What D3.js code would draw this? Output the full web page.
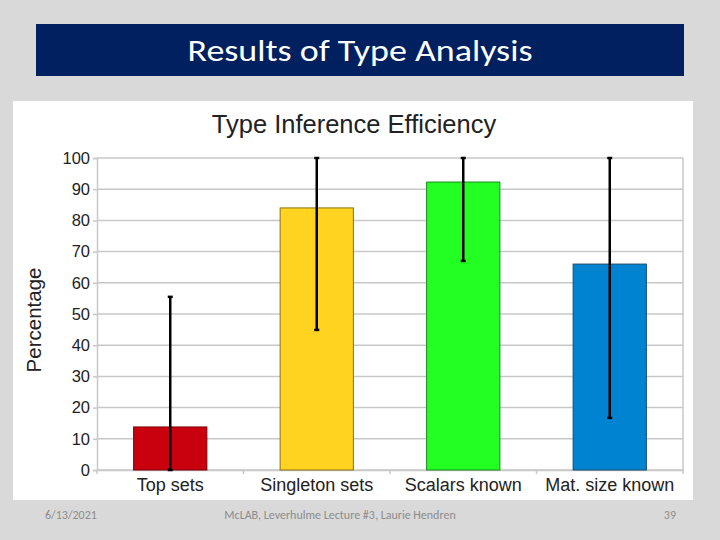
<!DOCTYPE html>
<html>
<head>
<meta charset="utf-8">
<script src="https://cdn.jsdelivr.net/npm/d3@7"></script>
<style>
  body { margin: 0; background: #d9d9d9; }
  svg { display: block; }
</style>
</head>
<body>
<script>
// data
const categories = ["Top sets", "Singleton sets", "Scalars known", "Mat. size known"];
const values = [13.8, 84, 92.3, 66];
const errLow = [0, 44.9, 67, 16.7];
const errHigh = [55.5, 100, 100, 100];
const barColors = ["#c9000e", "#ffd320", "#23ff23", "#0084d1"];
const barStrokes = ["#7a0008", "#8a7010", "#1a8a1a", "#1a4a70"];
const yTicks = [0, 10, 20, 30, 40, 50, 60, 70, 80, 90, 100];

const W = 720, H = 540;
const svg = d3.select("body").append("svg")
    .attr("width", W)
    .attr("height", H);

svg.append("rect").attr("width", W).attr("height", H).attr("fill", "#d9d9d9");

// slide title bar
svg.append("rect")
    .attr("x", 36).attr("y", 24)
    .attr("width", 648).attr("height", 52)
    .attr("fill", "#002060");
svg.append("text")
    .attr("x", 360).attr("y", 61)
    .attr("text-anchor", "middle")
    .attr("fill", "#fff")
    .attr("font-family", "Carlito, Lato, sans-serif")
    .attr("font-size", 30)
    .attr("textLength", 345)
    .attr("lengthAdjust", "spacingAndGlyphs")
    .text("Results of Type Analysis");

// chart panel
svg.append("rect")
    .attr("x", 13).attr("y", 101)
    .attr("width", 680).attr("height", 399)
    .attr("fill", "#fff");

const margin = {left: 97, right: 683, top: 158, bottom: 470};

const x = d3.scaleBand()
    .domain(categories)
    .range([margin.left, margin.right])
    .paddingInner(0.5)
    .paddingOuter(0.25);

const y = d3.scaleLinear()
    .domain([0, 100])
    .range([margin.bottom, margin.top]);

const font = "'Liberation Sans', Arial, sans-serif";

// gridlines
svg.append("g")
    .selectAll("line")
    .data(yTicks)
  .enter().append("line")
    .attr("x1", margin.left).attr("x2", margin.right)
    .attr("y1", d => y(d)).attr("y2", d => y(d))
    .attr("stroke", "#c8c8c8")
    .attr("stroke-width", 1.5);

// right border of plot
svg.append("line")
    .attr("x1", margin.right).attr("x2", margin.right)
    .attr("y1", margin.top).attr("y2", margin.bottom)
    .attr("stroke", "#c8c8c8").attr("stroke-width", 1.5);

// y axis
const yAxis = svg.append("g")
    .attr("transform", `translate(${margin.left},0)`)
    .call(d3.axisLeft(y).tickValues(yTicks).tickSize(4).tickPadding(3));
yAxis.select(".domain").attr("stroke", "#c8c8c8").attr("stroke-width", 1.5);
yAxis.selectAll(".tick line").attr("stroke", "#c8c8c8").attr("stroke-width", 1.5);
yAxis.selectAll("text")
    .attr("font-family", font)
    .attr("font-size", 16.5)
    .attr("fill", "#222");

// x axis
const xAxis = svg.append("g")
    .attr("transform", `translate(0,${margin.bottom})`)
    .call(d3.axisBottom(x).tickSize(0).tickPadding(8));
xAxis.select(".domain").attr("stroke", "#c8c8c8").attr("stroke-width", 1.5);
xAxis.selectAll("text")
    .attr("font-family", font)
    .attr("font-size", 18)
    .attr("fill", "#222");

// category separator ticks
const step = x.step();
svg.append("g")
    .selectAll("line")
    .data(d3.range(categories.length + 1))
  .enter().append("line")
    .attr("x1", i => margin.left + i * step)
    .attr("x2", i => margin.left + i * step)
    .attr("y1", margin.bottom)
    .attr("y2", margin.bottom + 4)
    .attr("stroke", "#c8c8c8")
    .attr("stroke-width", 1.5);

// bars
svg.append("g")
    .selectAll("rect")
    .data(categories)
  .enter().append("rect")
    .attr("x", d => x(d))
    .attr("y", (d, i) => y(values[i]))
    .attr("width", x.bandwidth())
    .attr("height", (d, i) => y(0) - y(values[i]))
    .attr("fill", (d, i) => barColors[i])
    .attr("stroke", (d, i) => barStrokes[i])
    .attr("stroke-width", 1);

// error bars
const eb = svg.append("g")
    .selectAll("g")
    .data(categories)
  .enter().append("g");
eb.append("line")
    .attr("x1", d => x(d) + x.bandwidth() / 2)
    .attr("x2", d => x(d) + x.bandwidth() / 2)
    .attr("y1", (d, i) => y(errLow[i]))
    .attr("y2", (d, i) => y(errHigh[i]))
    .attr("stroke", "#000")
    .attr("stroke-width", 2.5);
eb.append("line")
    .attr("x1", d => x(d) + x.bandwidth() / 2 - 2.5)
    .attr("x2", d => x(d) + x.bandwidth() / 2 + 2.5)
    .attr("y1", (d, i) => y(errHigh[i]))
    .attr("y2", (d, i) => y(errHigh[i]))
    .attr("stroke", "#000")
    .attr("stroke-width", 2.5);
eb.append("line")
    .attr("x1", d => x(d) + x.bandwidth() / 2 - 2.5)
    .attr("x2", d => x(d) + x.bandwidth() / 2 + 2.5)
    .attr("y1", (d, i) => y(errLow[i]))
    .attr("y2", (d, i) => y(errLow[i]))
    .attr("stroke", "#000")
    .attr("stroke-width", 2.5);

// chart title
svg.append("text")
    .attr("x", 354).attr("y", 133)
    .attr("text-anchor", "middle")
    .attr("font-family", font)
    .attr("font-size", 25.5)
    .attr("fill", "#222")
    .text("Type Inference Efficiency");

// y label
svg.append("text")
    .attr("transform", "translate(41,320) rotate(-90)")
    .attr("text-anchor", "middle")
    .attr("font-family", font)
    .attr("font-size", 20.5)
    .attr("fill", "#222")
    .text("Percentage");

// footer
const footFont = "Carlito, Lato, sans-serif";
svg.append("text")
    .attr("x", 45).attr("y", 519)
    .attr("font-family", footFont)
    .attr("font-size", 12)
    .attr("fill", "#8c8c8c")
    .text("6/13/2021");
svg.append("text")
    .attr("x", 340).attr("y", 519)
    .attr("text-anchor", "middle")
    .attr("font-family", footFont)
    .attr("font-size", 12)
    .attr("fill", "#8c8c8c")
    .text("McLAB, Leverhulme Lecture #3, Laurie Hendren");
svg.append("text")
    .attr("x", 676).attr("y", 519)
    .attr("text-anchor", "end")
    .attr("font-family", footFont)
    .attr("font-size", 12)
    .attr("fill", "#8c8c8c")
    .text("39");
</script>
</body>
</html>
